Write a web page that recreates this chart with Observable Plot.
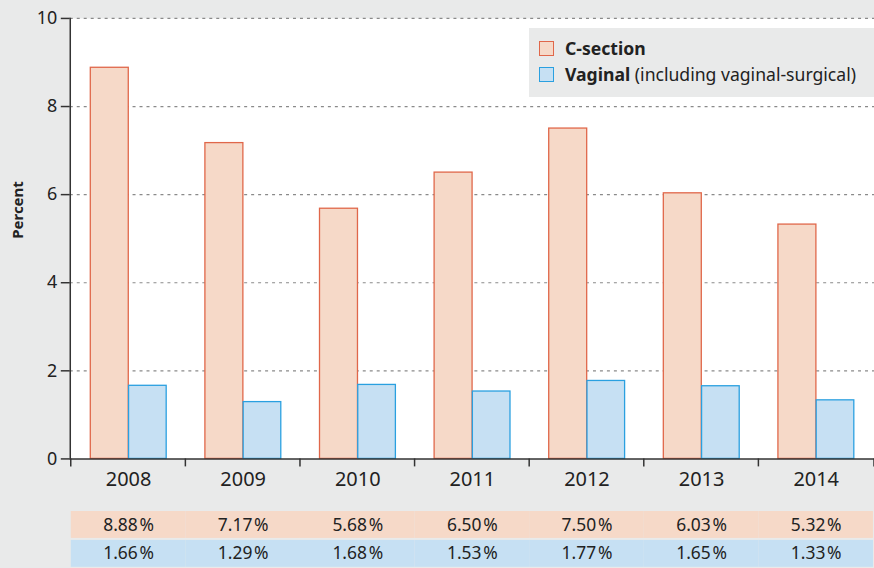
<!DOCTYPE html>
<html><head><meta charset="utf-8">
<script src="https://cdn.jsdelivr.net/npm/d3@7"></script>
<script src="https://cdn.jsdelivr.net/npm/@observablehq/plot@0.6"></script>
<style>
  html,body{margin:0;padding:0;background:#e9eaea;width:874px;height:568px;overflow:hidden;font-family:"Noto Sans",sans-serif;}
  #wrap{position:relative;width:874px;height:568px;}
  #chart{position:absolute;left:0;top:0;}
  #table{position:absolute;left:0;top:510px;}
  #legend{position:absolute;left:529px;top:28px;width:345px;height:69px;background:#e9eaea;font-size:17.6px;color:#222;}
  #legend .row{position:absolute;left:10px;display:flex;align-items:center;white-space:nowrap;}
  #legend .sw{width:13px;height:13px;margin-right:11px;}
</style></head>
<body><div id="wrap"><div id="chart"></div><div id="table"></div>
<div id="legend">
  <div class="row" style="top:8px"><span class="sw" style="background:#f6d9c8;border:1px solid #e0674a"></span><b>C-section</b></div>
  <div class="row" style="top:34px"><span class="sw" style="background:#c6e0f3;border:1px solid #2aa0e0"></span><span><b>Vaginal</b> (including vaginal-surgical)</span></div>
</div></div>
<script>
const years = ["2008","2009","2010","2011","2012","2013","2014"];
const cesarean = [8.88, 7.17, 5.68, 6.50, 7.50, 6.03, 5.32];
const vaginal = [1.66, 1.29, 1.68, 1.53, 1.77, 1.65, 1.33];
const yTicks = [0, 2, 4, 6, 8, 10];
const seriesNames = ["C-section", "Vaginal"];

const peachFill = "#f6d9c8", peachStroke = "#e0674a";
const blueFill = "#c6e0f3", blueStroke = "#2aa0e0";

const data = years.map((y, i) => ({year: y, cs: cesarean[i], vag: vaginal[i]}));
const W = 877, ML = 70, MR = 0;
const step = (W - ML - MR) / years.length;

const chart = Plot.plot({
  width: W, height: 500,
  marginLeft: ML, marginRight: MR, marginTop: 18, marginBottom: 40,
  style: {background: "transparent", fontFamily: "Noto Sans, sans-serif", fontSize: "18px", color: "#222", overflow: "visible"},
  x: {domain: years, padding: 0, label: null},
  y: {domain: [0, 10], label: null},
  marks: [
    Plot.frame({fill: "white", stroke: null}),
    Plot.gridY(yTicks.slice(1), {stroke: "#8a8a8a", strokeOpacity: 1, strokeDasharray: "3,4", strokeWidth: 1.2}),
    Plot.barY(data, {x: "year", y: "cs", fill: peachFill, stroke: peachStroke, strokeWidth: 1.3,
      insetLeft: step * 0.17, insetRight: step - step * 0.503}),
    Plot.barY(data, {x: "year", y: "vag", fill: blueFill, stroke: blueStroke, strokeWidth: 1.3,
      insetLeft: step * 0.503, insetRight: step - step * 0.833}),
    Plot.ruleY([0], {stroke: "#333", strokeWidth: 1.5}),
    Plot.frame({anchor: "left", stroke: "#333", strokeWidth: 1.5}),
    Plot.axisY(yTicks, {tickSize: 9, tickPadding: 4, stroke: "#333", strokeWidth: 1.5, fontSize: 18, label: null}),
    Plot.axisX({tickSize: 0, tickPadding: 13, fontSize: 20, label: null}),
    Plot.text(["Percent"], {frameAnchor: "left", rotate: -90, dx: -52, fontWeight: "bold", fontSize: 15, fill: "#222"}),
    (index, scales, values, dims) => {
      const g = d3.create("svg:g").attr("stroke", "#333").attr("stroke-width", 1.5);
      const y0 = scales.y(0);
      const xs = years.map(y => scales.x(y)).concat([dims.width - dims.marginRight]);
      for (const x of xs) g.append("line").attr("x1", x).attr("x2", x).attr("y1", y0).attr("y2", y0 + 8);
      return g.node();
    }
  ]
});
document.getElementById("chart").appendChild(chart);

const rows = [];
years.forEach((y, i) => {
  rows.push({year: y, series: seriesNames[0], value: cesarean[i]});
  rows.push({year: y, series: seriesNames[1], value: vaginal[i]});
});
const table = Plot.plot({
  width: W, height: 58,
  marginLeft: ML, marginRight: MR, marginTop: 0, marginBottom: 0,
  style: {background: "transparent", fontFamily: "Noto Sans, sans-serif", fontSize: "18px", color: "#222"},
  x: {domain: years, padding: 0, axis: null},
  y: {domain: seriesNames, padding: 0, axis: null},
  color: {domain: seriesNames, range: [peachFill, blueFill]},
  marks: [
    Plot.cell(rows, {x: "year", y: "series", fill: "series", insetTop: 1, insetBottom: 1}),
    Plot.text(rows, {x: "year", y: "series", text: d => d.value.toFixed(2) + "\u200A%", fill: "#222", fontSize: 17.5})
  ]
});
document.getElementById("table").appendChild(table);
</script></body></html>
